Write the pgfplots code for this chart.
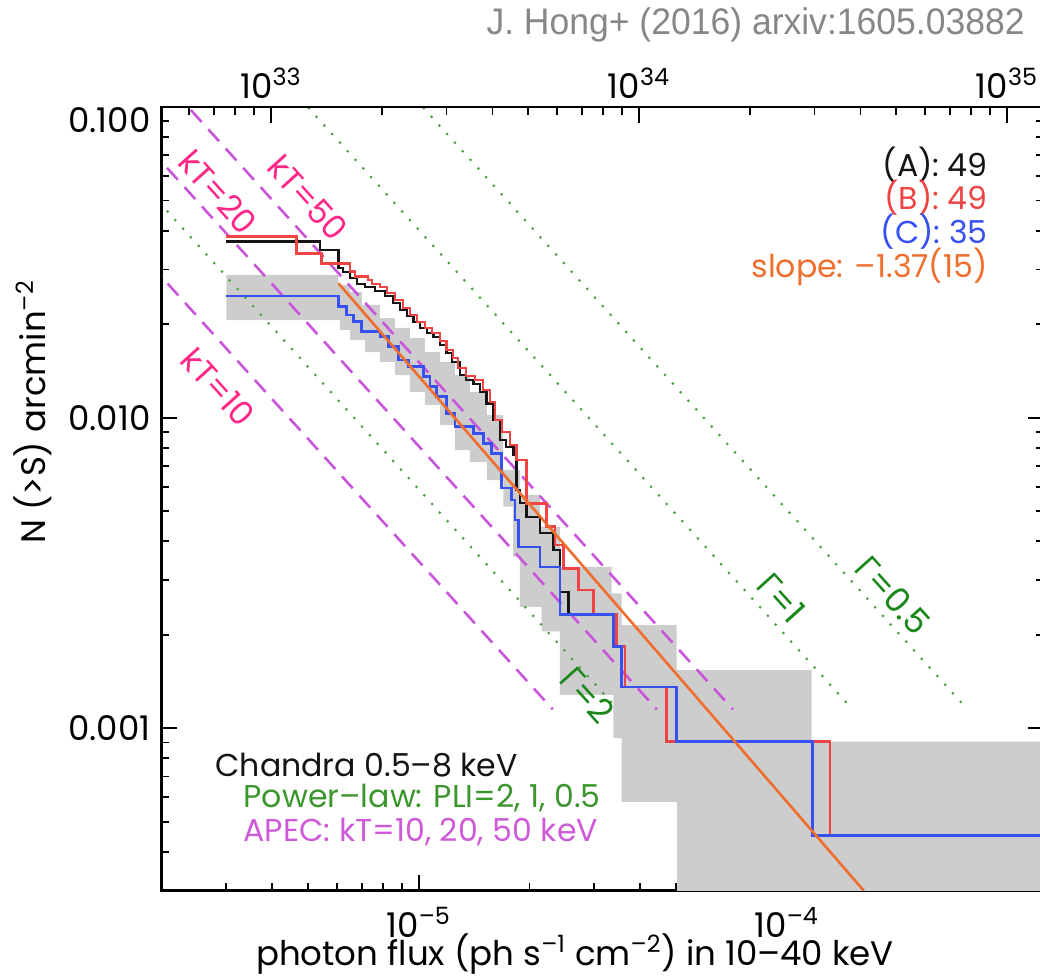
\documentclass[border=0pt]{standalone}
\usepackage{fontspec}
\setmainfont{Poppins}
\newfontfamily\greekfont{Open Sans}
\newfontfamily\titlefont[FakeStretch=0.96]{Liberation Sans}
\usepackage{pgfplots}
\pgfplotsset{compat=1.18}

\definecolor{cA}{RGB}{20,20,20}
\definecolor{cB}{RGB}{238,68,68}
\definecolor{cC}{RGB}{55,80,240}
\definecolor{cfit}{RGB}{240,110,45}
\definecolor{band}{RGB}{205,205,205}
\definecolor{plgreen}{RGB}{70,160,60}
\definecolor{pltext}{RGB}{60,150,45}
\definecolor{pllabel}{RGB}{25,135,25}
\definecolor{apec}{RGB}{200,85,220}
\definecolor{apectext}{RGB}{205,90,215}
\definecolor{ktlabel}{RGB}{255,40,135}
\definecolor{titlegray}{RGB}{135,135,135}

\newcommand{\ann}{\fontsize{15.8}{19}\selectfont}
\newcommand{\labfont}{\fontsize{17}{20}\selectfont}

\begin{document}
\begin{tikzpicture}

% ---- main axis: photon flux vs. cumulative source density ----
\begin{axis}[
  at={(0pt,0pt)}, anchor=south west, scale only axis,
  width=441.2pt, height=391.8pt,
  xmode=log, ymode=log,
  xmin=2e-6, xmax=5e-4, ymin=3e-4, ymax=0.1,
  tick align=inside,
  major tick length=8pt, minor tick length=4pt,
  tick style={black, line width=0.9pt},
  axis line style={black, line width=1.3pt},
  tick label style={font=\fontsize{17}{20}\selectfont},
  xtick pos=left,
  xtick={1e-5,1e-4},
  xticklabels={10\textsuperscript{–5},10\textsuperscript{–4}},
  minor xtick={3e-6,4e-6,5e-6,6e-6,7e-6,8e-6,9e-6,2e-5,3e-5,4e-5,5e-5,6e-5,7e-5,8e-5,9e-5,2e-4,3e-4,4e-4},
  xticklabel style={yshift=-5pt},
  ytick={1e-3,1e-2,1e-1},
  yticklabels={0.001,0.010,\smash{\raisebox{-12.5pt}{0.100}}},
  minor ytick={4e-4,5e-4,6e-4,7e-4,8e-4,9e-4,2e-3,3e-3,4e-3,5e-3,6e-3,7e-3,8e-3,9e-3,2e-2,3e-2,4e-2,5e-2,6e-2,7e-2,8e-2,9e-2},
  yticklabel pos=left,
  yticklabel style={xshift=-2pt},
  clip mode=individual,
]

% uncertainty band of sample C
\addplot[fill=band, draw=none, forget plot] coordinates {
  (3.0e-6,0.02880) (6.05e-6,0.02880) (6.05e-6,0.02674) (6.51e-6,0.02674)
  (6.51e-6,0.02539) (7.01e-6,0.02539) (7.01e-6,0.02306) (7.85e-6,0.02306)
  (7.85e-6,0.02094) (8.62e-6,0.02094) (8.62e-6,0.01945) (9.47e-6,0.01945)
  (9.47e-6,0.01806) (1.040e-5,0.01806) (1.040e-5,0.01627) (1.143e-5,0.01627)
  (1.143e-5,0.01512) (1.255e-5,0.01512) (1.255e-5,0.01372) (1.378e-5,0.01372)
  (1.378e-5,0.01210) (1.533e-5,0.01210) (1.533e-5,0.01020) (1.695e-5,0.01020)
  (1.695e-5,0.00679) (1.885e-5,0.00679) (1.885e-5,0.00564) (2.136e-5,0.00564)
  (2.136e-5,0.00446) (2.421e-5,0.00446) (2.421e-5,0.00331) (3.345e-5,0.00331)
  (3.345e-5,0.00272) (3.561e-5,0.00272) (3.561e-5,0.00215) (5.02e-5,0.00215)
  (5.02e-5,0.00154) (1.169e-4,0.00154) (1.169e-4,0.000906) (6e-4,0.000906)
  (6e-4,1e-4) (5.04e-5,1e-4) (5.04e-5,0.000580) (3.561e-5,0.000580)
  (3.561e-5,0.000929) (3.379e-5,0.000929) (3.379e-5,0.00128) (2.421e-5,0.00128)
  (2.421e-5,0.00205) (2.159e-5,0.00205) (2.159e-5,0.00246) (1.885e-5,0.00246)
  (1.885e-5,0.00357) (1.807e-5,0.00357) (1.807e-5,0.00517) (1.698e-5,0.00517)
  (1.698e-5,0.00630) (1.533e-5,0.00630) (1.533e-5,0.00720) (1.378e-5,0.00720)
  (1.378e-5,0.00787) (1.255e-5,0.00787) (1.255e-5,0.00947) (1.143e-5,0.00947)
  (1.143e-5,0.01099) (1.040e-5,0.01099) (1.040e-5,0.01210) (9.47e-6,0.01210)
  (9.47e-6,0.01372) (8.62e-6,0.01372) (8.62e-6,0.01512) (7.85e-6,0.01512)
  (7.85e-6,0.01627) (7.15e-6,0.01627) (7.15e-6,0.01780) (6.51e-6,0.01780)
  (6.51e-6,0.01916) (6.11e-6,0.01916) (6.11e-6,0.02063) (3.0e-6,0.02063)
};

% power-law model curves (PLI = 2, 1, 0.5)
\addplot[plgreen, line width=1.5pt, line cap=round, dash pattern=on 0pt off 5.8pt, no markers] coordinates {(6.78e-7,0.2) (3.477e-5,1.15e-3)};
\addplot[plgreen, line width=1.5pt, line cap=round, dash pattern=on 0pt off 5.8pt, no markers] coordinates {(2.943e-6,0.2) (1.510e-4,1.15e-3)};
\addplot[plgreen, line width=1.5pt, line cap=round, dash pattern=on 0pt off 5.8pt, no markers] coordinates {(6.045e-6,0.2) (3.101e-4,1.15e-3)};

% APEC model curves (kT = 10, 20, 50 keV)
\addplot[apec, line width=1.3pt, dash pattern=on 8pt off 5pt, no markers] coordinates {(4.51e-7,0.2) (2.314e-5,1.15e-3)};
\addplot[apec, line width=1.3pt, dash pattern=on 8pt off 5pt, no markers] coordinates {(8.65e-7,0.2) (4.438e-5,1.15e-3)};
\addplot[apec, line width=1.3pt, dash pattern=on 8pt off 5pt, no markers] coordinates {(1.393e-6,0.2) (7.145e-5,1.15e-3)};

% sample A
\addplot[const plot, cA, line width=1.3pt, no markers] coordinates {
  (3.0e-6,0.03686) (5.39e-6,0.03467) (6.05e-6,0.03034) (6.23e-6,0.02945)
  (6.51e-6,0.02817) (6.80e-6,0.02694) (7.15e-6,0.02635) (7.61e-6,0.02557)
  (8.10e-6,0.02465) (8.52e-6,0.02341) (8.90e-6,0.02222) (9.29e-6,0.02126)
  (9.67e-6,0.02033) (1.008e-5,0.01945) (1.053e-5,0.01874) (1.096e-5,0.01819)
  (1.143e-5,0.01714) (1.191e-5,0.01615) (1.232e-5,0.01512) (1.295e-5,0.01372)
  (1.344e-5,0.01323) (1.407e-5,0.01284) (1.467e-5,0.01210) (1.530e-5,0.01113)
  (1.592e-5,0.00983) (1.663e-5,0.00848) (1.727e-5,0.00805) (1.807e-5,0.00759)
  (1.846e-5,0.00585) (1.885e-5,0.00531) (1.966e-5,0.00479) (2.136e-5,0.00425)
  (2.322e-5,0.00375) (2.421e-5,0.00275) (2.550e-5,0.00232) (3.379e-5,0.00183)
  (3.561e-5,0.00136) (5.02e-5,0.000906) (1.177e-4,0.000451) (6e-4,0.000451)
};

% sample B
\addplot[const plot, cB, line width=1.3pt, no markers] coordinates {
  (3.0e-6,0.03825) (4.66e-6,0.03383) (5.45e-6,0.03141) (6.51e-6,0.02952)
  (6.71e-6,0.02844) (7.28e-6,0.02776) (7.47e-6,0.02694) (7.85e-6,0.02635)
  (8.20e-6,0.02520) (8.62e-6,0.02393) (9.06e-6,0.02255) (9.47e-6,0.02141)
  (9.89e-6,0.02033) (1.040e-5,0.01945) (1.087e-5,0.01874) (1.143e-5,0.01766)
  (1.191e-5,0.01652) (1.239e-5,0.01557) (1.279e-5,0.01445) (1.344e-5,0.01362)
  (1.422e-5,0.01323) (1.495e-5,0.01228) (1.562e-5,0.01123) (1.612e-5,0.00983)
  (1.684e-5,0.00900) (1.770e-5,0.00817) (1.846e-5,0.00731) (1.966e-5,0.00530)
  (2.228e-5,0.00446) (2.346e-5,0.00389) (2.471e-5,0.00327) (2.715e-5,0.00279)
  (2.982e-5,0.00232) (3.451e-5,0.00183) (3.636e-5,0.00136) (4.720e-5,0.000906)
  (1.311e-4,0.000451) (6e-4,0.000451)
};

% sample C
\addplot[const plot, cC, line width=1.3pt, no markers] coordinates {
  (3.0e-6,0.02465) (6.05e-6,0.02277) (6.37e-6,0.02141) (6.64e-6,0.02038)
  (7.00e-6,0.01892) (7.85e-6,0.01823) (8.27e-6,0.01693) (8.81e-6,0.01534)
  (9.37e-6,0.01459) (1.029e-5,0.01355) (1.073e-5,0.01258) (1.119e-5,0.01169)
  (1.191e-5,0.01033) (1.255e-5,0.00936) (1.407e-5,0.00891) (1.498e-5,0.00827)
  (1.579e-5,0.00768) (1.681e-5,0.00593) (1.789e-5,0.00543) (1.826e-5,0.00468)
  (1.865e-5,0.00384) (2.136e-5,0.00331) (2.421e-5,0.00232) (3.379e-5,0.00183)
  (3.561e-5,0.00136) (5.02e-5,0.000906) (1.177e-4,0.000451) (6e-4,0.000451)
};

% power-law fit, slope -1.37
\addplot[cfit, line width=1.3pt, no markers] coordinates {(6.05e-6,0.0271) (1.62e-4,3.0e-4)};

\end{axis}

% ---- luminosity scale along the top ----
\begin{axis}[
  at={(0pt,0pt)}, anchor=south west, scale only axis,
  width=441.2pt, height=391.8pt,
  xmode=log, ymode=log,
  xmin=5.048e32, xmax=1.262e35, ymin=3e-4, ymax=0.1,
  axis x line*=top, axis y line=none, ytick=\empty,
  tick align=inside,
  major tick length=8pt, minor tick length=4pt,
  tick style={black, line width=0.9pt},
  axis line style={black, line width=1.3pt, -},
  tick label style={font=\fontsize{17}{20}\selectfont},
  xtick={1e33,1e34,1e35},
  xticklabels={10\textsuperscript{33},10\textsuperscript{34},10\textsuperscript{35}},
  minor xtick={6e32,7e32,8e32,9e32,2e33,3e33,4e33,5e33,6e33,7e33,8e33,9e33,2e34,3e34,4e34,5e34,6e34,7e34,8e34,9e34},
  xticklabel style={yshift=1pt},
]
\end{axis}

% ---- labels ----
\begin{scope}[every node/.style={inner sep=0pt}]
\node[anchor=east, text=titlegray, font=\titlefont\fontsize{18.5}{22}\selectfont] at (431.75pt,432.85pt) {J. Hong+ (2016) arxiv:1605.03882};
\node[rotate=90, font=\labfont] at (-64.25pt,239.35pt) {N (>S) arcmin\textsuperscript{–2}};
\node[anchor=base, font=\labfont] at (206.75pt,-37.4pt) {photon flux (ph s\textsuperscript{–1} cm\textsuperscript{–2}) in 10–40 keV};

\node[anchor=east, font=\ann, text=cA] at (413.25pt,362.85pt) {(A): 49};
\node[anchor=east, font=\ann, text=cB] at (413.25pt,346.35pt) {(B): 49};
\node[anchor=east, font=\ann, text=cC] at (413.25pt,329.35pt) {(C): 35};
\node[anchor=east, font=\ann, text=cfit] at (413.25pt,311.85pt) {slope: –1.37(15)};

\node[anchor=west, font=\ann, text=cA] at (26.75pt,62.85pt) {Chandra 0.5–8 keV};
\node[anchor=west, font=\ann, text=pltext] at (40.9pt,46.2pt) {Power–law: PLI=2, 1, 0.5};
\node[anchor=west, font=\ann, text=apectext] at (40.9pt,29.5pt) {APEC: kT=10, 20, 50 keV};

\node[rotate=-48, font=\fontsize{16.5}{19}\selectfont, text=ktlabel] at (73.25pt,346.35pt) {kT=50};
\node[rotate=-48, font=\fontsize{16.5}{19}\selectfont, text=ktlabel] at (28.25pt,349.35pt) {kT=20};
\node[rotate=-48, font=\fontsize{16.5}{19}\selectfont, text=ktlabel] at (28.25pt,251.85pt) {kT=10};
\node[rotate=-48, font=\fontsize{17}{20}\selectfont, text=pllabel] at (212.75pt,97.85pt) {{\greekfont Γ}=2};
\node[rotate=-48, font=\fontsize{17}{20}\selectfont, text=pllabel] at (309.75pt,146.35pt) {{\greekfont Γ}=1};
\node[rotate=-48, font=\fontsize{17}{20}\selectfont, text=pllabel] at (365.75pt,147.85pt) {{\greekfont Γ}=0.5};
\end{scope}

\pgfresetboundingbox
\useasboundingbox (-80.75pt,-43.15pt) rectangle (439.25pt,445.35pt);
\end{tikzpicture}
\end{document}
